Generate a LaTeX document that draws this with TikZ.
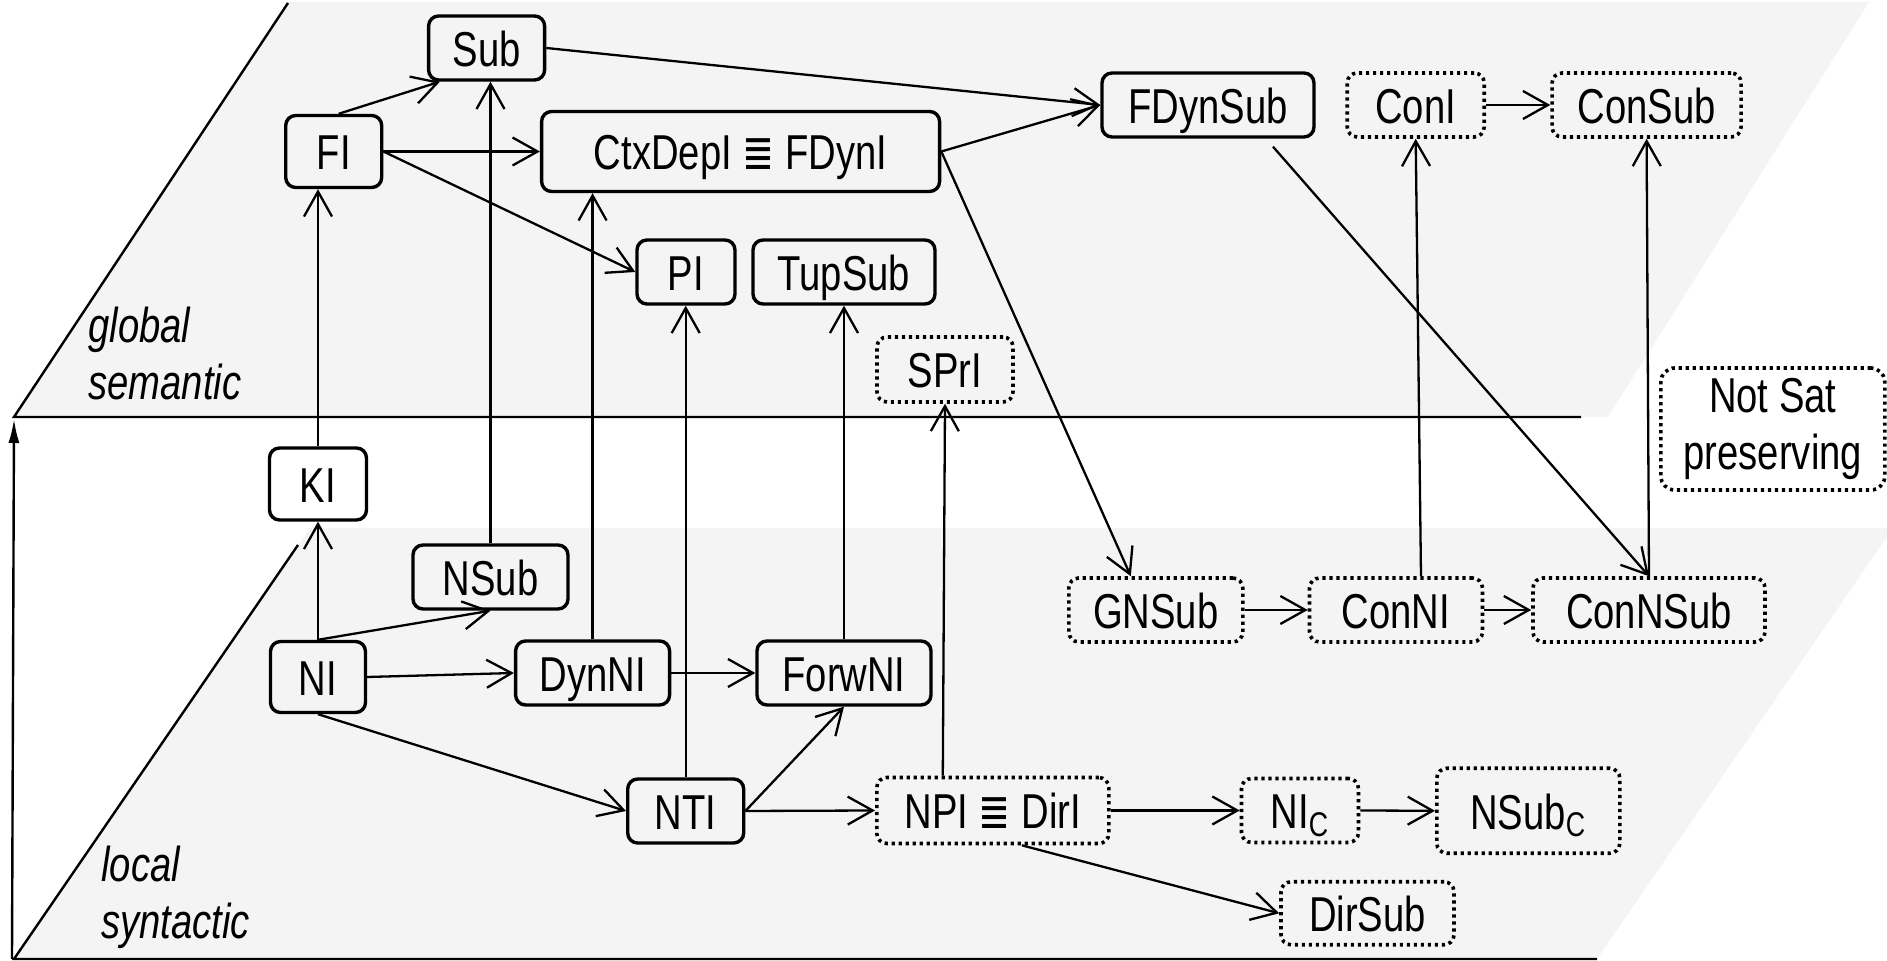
\documentclass[tikz,border=0pt]{standalone}
\usepackage{fontspec}
\setmainfont{Liberation Sans}[FakeStretch=0.78]
\newfontfamily\eqfont{DejaVu Sans}[FakeStretch=0.78]
\usetikzlibrary{arrows.meta,calc}
\definecolor{planegrey}{RGB}{244,244,244}
\newcommand{\steqv}{{\eqfont ≣}}
\begin{document}
\begin{tikzpicture}[x=0.5pt,y=-0.5pt,
  font=\fontsize{24.5pt}{28.5pt}\selectfont,
  box/.style={draw, line width=1.7pt, rounded corners=5pt, inner sep=0pt,
              text height=18.5pt, text depth=0pt},
  dotbox/.style={box, line width=1.8pt, dash pattern=on 1.6pt off 1.9pt},
  arr/.style={line width=1.15pt, -{Straight Barb[length=12.5pt,width=14pt]}},
  planeline/.style={line width=1.2pt},
  lbl/.style={anchor=base west, inner sep=0pt, font=\fontsize{24.5pt}{28.5pt}\selectfont\itshape}]
\useasboundingbox (0,0) rectangle (1887,961);

% planes
\fill[planegrey] (14,417) -- (288,2) -- (1869,2) -- (1608,417) -- cycle;
\fill[planegrey] (14,959) -- (310,528) -- (1893,528) -- (1597,959) -- cycle;
\draw[planeline] (288,3) -- (14,417) -- (1581,417);
\draw[planeline] (298,545) -- (14,959) -- (1597,959);
\coordinate (axbot) at (12,959);
\coordinate (axtop) at (14,419);
\draw[line width=1.2pt, -{Latex[length=12pt,width=5.5pt]}] (axbot) -- (axtop);

% labels
\node[lbl] (g1) at (88,343) {global};
\node[lbl] (g2) at (88,400) {semantic};
\node[lbl] (l1) at (101,882) {local};
\node[lbl] (l2) at (101,939) {syntactic};

% global nodes
\node[box, minimum width=58pt, minimum height=32pt] (Sub) at (486.6,48) {Sub};
\node[box, minimum width=48pt, minimum height=36pt] (FI) at (333.7,151.5) {FI};
\node[box, minimum width=199pt, minimum height=40pt] (Ctx) at (740.6,151.5) {CtxDepI \steqv{} FDynI};
\node[box, minimum width=106pt, minimum height=32pt] (FDynSub) at (1208,105) {FDynSub};
\node[dotbox, minimum width=68.5pt, minimum height=32pt] (ConI) at (1415.7,105) {ConI};
\node[dotbox, minimum width=94.5pt, minimum height=32pt] (ConSub) at (1646.6,105) {ConSub};
\node[box, minimum width=49pt, minimum height=32pt] (PI) at (686,272) {PI};
\node[box, minimum width=91pt, minimum height=32pt] (TupSub) at (844,272) {TupSub};
\node[dotbox, minimum width=68pt, minimum height=32.5pt] (SPrI) at (945,369.5) {SPrI};
\node[draw, line width=1.8pt, dash pattern=on 1.6pt off 1.9pt, rounded corners=7pt,
      inner sep=0pt, minimum width=112pt, minimum height=61pt, align=center]
      (NotSat) at (1772.8,429) {Not Sat\\preserving};

% local nodes
\node[box, minimum width=48.5pt, minimum height=36pt] (KI) at (318,484) {KI};
\node[box, minimum width=77.5pt, minimum height=32pt] (NSub) at (490.5,577) {NSub};
\node[box, minimum width=47.5pt, minimum height=35.5pt] (NI) at (318,677) {NI};
\node[box, minimum width=77pt, minimum height=32pt] (DynNI) at (592.6,673) {DynNI};
\node[box, minimum width=87pt, minimum height=32pt] (ForwNI) at (844,673) {ForwNI};
\node[dotbox, minimum width=87pt, minimum height=32pt] (GNSub) at (1155.8,610) {GNSub};
\node[dotbox, minimum width=86.5pt, minimum height=32pt] (ConNI) at (1396,610) {ConNI};
\node[dotbox, minimum width=116pt, minimum height=32pt] (ConNSub) at (1649,610) {ConNSub};
\node[box, minimum width=58pt, minimum height=32pt] (NTI) at (685.7,811) {NTI};
\node[dotbox, minimum width=116pt, minimum height=33pt] (NPI) at (992.8,810.5) {NPI \steqv{} DirI};
\node[dotbox, minimum width=58.5pt, minimum height=32pt] (NIC) at (1300,810.5) {NI\textsubscript{C}};
\node[dotbox, minimum width=91.5pt, minimum height=42.5pt] (NSubC) at (1528.3,810.8) {NSub\textsubscript{C}};
\node[dotbox, minimum width=86.5pt, minimum height=31.5pt] (DirSub) at (1367.5,913.3) {DirSub};

% edges, global plane
\draw[arr] ([shift={(5,0)}]FI.north) -- ([shift={(13,0)}]Sub.south west);
\draw[arr] (Sub.east) -- (FDynSub.west);
\draw[arr] (FI.east) -- (Ctx.west);
\draw[arr] (FI.east) -- (PI.west);
\draw[arr] (Ctx.east) -- (FDynSub.west);
\draw[arr] (Ctx.east) -- ([shift={(-25,0)}]GNSub.north);
\draw[arr] ([shift={(65,8)}]FDynSub.south) -- (ConNSub.north);
\draw[arr] (ConI.east) -- (ConSub.west);

% edges between planes
\draw[arr] (KI.north) -- (KI.north |- FI.south);
\draw[arr] (NSub.north) -- (NSub.north |- Sub.south);
\draw[arr] (DynNI.north) -- (DynNI.north |- Ctx.south);
\draw[arr] (NTI.north) -- (NTI.north |- PI.south);
\draw[arr] (ForwNI.north) -- (ForwNI.north |- TupSub.south);
\draw[arr] ([shift={(-50,0)}]NPI.north) -- (SPrI.south);
\draw[arr] ([shift={(25,0)}]ConNI.north) -- (ConI.south);
\draw[arr] (ConNSub.north) -- (ConSub.south);

% edges, local plane
\draw[arr] (NI.north) -- (KI.south);
\draw[arr] (NI.north) -- (NSub.south);
\draw[arr] (NI.east) -- (DynNI.west);
\draw[arr] (DynNI.east) -- (ForwNI.west);
\draw[arr] (NI.south) -- (NTI.west);
\draw[arr] (NTI.east) -- (ForwNI.south);
\draw[arr] (NTI.east) -- (NPI.west);
\draw[arr] (NPI.east) -- (NIC.west);
\draw[arr] (NIC.east) -- (NSubC.west);
\draw[arr] ([shift={(29,0)}]NPI.south) -- (DirSub.west);
\draw[arr] (GNSub.east) -- (ConNI.west);
\draw[arr] (ConNI.east) -- (ConNSub.west);
\end{tikzpicture}
\end{document}
